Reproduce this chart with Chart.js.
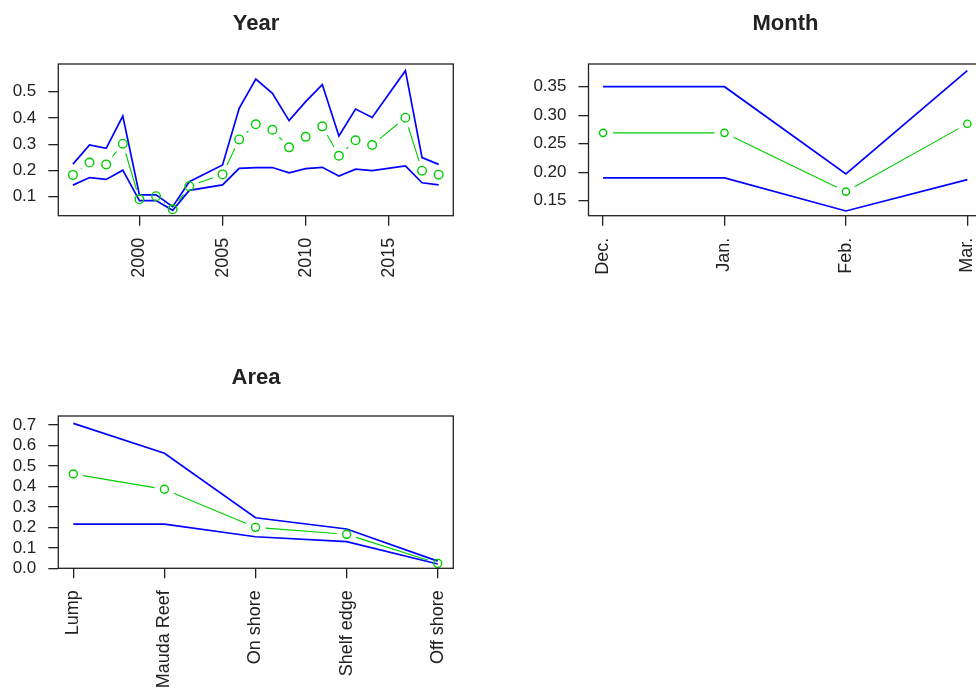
<!DOCTYPE html>
<html>
<head>
<meta charset="utf-8">
<script src="https://cdn.jsdelivr.net/npm/chart.js@4"></script>
<style>
html, body { margin:0; padding:0; background:#fff; overflow:hidden; width:976px; height:693px; }
canvas { position:absolute; }
</style>
</head>
<body>
<canvas id="year" width="512" height="352" style="left:0;top:0"></canvas>
<canvas id="month" width="571" height="352" style="left:500px;top:0"></canvas>
<canvas id="area" width="512" height="341" style="left:0;top:352px"></canvas>
<script>
// --- data ---
const years = [1996,1997,1998,1999,2000,2001,2002,2003,2005,2006,2007,2008,2009,2010,2011,2012,2013,2014,2016,2017,2018]
const yearMid   = [0.183,0.230,0.223,0.302,0.090,0.102,0.052,0.140,0.185,0.318,0.376,0.355,0.288,0.328,0.368,0.256,0.315,0.297,0.401,0.199,0.184]
const yearUpper = [0.224,0.297,0.284,0.407,0.107,0.107,0.062,0.157,0.221,0.437,0.548,0.494,0.390,0.462,0.527,0.331,0.434,0.402,0.580,0.249,0.223]
const yearLower = [0.144,0.173,0.166,0.201,0.085,0.085,0.048,0.124,0.145,0.208,0.211,0.211,0.191,0.207,0.212,0.179,0.205,0.199,0.217,0.153,0.145]
const yearXTicks = [2000,2005,2010,2015]
const yearYTicks = [0.1,0.2,0.3,0.4,0.5]

const months = ['Dec.','Jan.','Feb.','Mar.']
const monthMid   = [0.269,0.269,0.166,0.285]
const monthUpper = [0.350,0.350,0.197,0.378]
const monthLower = [0.190,0.190,0.132,0.187]
const monthYTicks = [0.15,0.20,0.25,0.30,0.35]

const areas = ['Lump','Mauda Reef','On shore','Shelf edge','Off shore']
const areaMid   = [0.461,0.386,0.200,0.166,0.024]
const areaUpper = [0.708,0.562,0.247,0.192,0.035]
const areaLower = [0.216,0.216,0.154,0.130,0.021]
const areaYTicks = [0.0,0.1,0.2,0.3,0.4,0.5,0.6,0.7]

const BLUE = '#0000ff'
const GREEN = '#00cd00'
const INK = '#222'
const FONT = "Arial, 'Liberation Sans', sans-serif"
const GAP = 10

// R type="b": segments stop short of each point
const gapLines = {
    id: 'gapLines',
    afterDatasetsDraw(chart) {
        const {ctx, chartArea} = chart
        chart.data.datasets.forEach((ds, i) => {
            if (!ds.gapLine) return
            const pts = chart.getDatasetMeta(i).data
            ctx.save()
            ctx.beginPath()
            ctx.rect(chartArea.left, chartArea.top, chartArea.width, chartArea.height)
            ctx.clip()
            ctx.strokeStyle = ds.borderColor
            ctx.lineWidth = ds.borderWidth
            ctx.beginPath()
            for (let k = 1; k < pts.length; k++) {
                const a = pts[k-1], b = pts[k]
                const dx = b.x - a.x, dy = b.y - a.y, len = Math.hypot(dx, dy)
                if (len <= 2*GAP) continue
                const ux = dx/len, uy = dy/len
                ctx.moveTo(a.x + ux*GAP, a.y + uy*GAP)
                ctx.lineTo(b.x - ux*GAP, b.y - uy*GAP)
            }
            ctx.stroke()
            ctx.restore()
        })
    }
}

// plot box
const frame = {
    id: 'frame',
    afterDraw(chart) {
        const {ctx, chartArea} = chart
        ctx.save()
        ctx.strokeStyle = INK
        ctx.lineWidth = 1.3
        ctx.strokeRect(chartArea.left, chartArea.top, chartArea.width, chartArea.height)
        ctx.restore()
    }
}

function makePanel(id, opt) {
    const pts = (ys) => ys.map((y, i) => ({x: opt.xs[i], y}))
    new Chart(document.getElementById(id), {
        type: 'line',
        data: {
            datasets: [
                {data: pts(opt.mid), borderColor: GREEN, borderWidth: 1.1, showLine: false, gapLine: true,
                 pointStyle: 'circle', pointRadius: opt.radius, pointBorderWidth: 1.4,
                 pointBorderColor: GREEN, pointBackgroundColor: 'rgba(0,0,0,0)'},
                {data: pts(opt.upper), borderColor: BLUE, borderWidth: 1.7, pointRadius: 0, tension: 0},
                {data: pts(opt.lower), borderColor: BLUE, borderWidth: 1.7, pointRadius: 0, tension: 0}
            ]
        },
        options: {
            responsive: false,
            animation: false,
            events: [],
            layout: {padding: 0},
            plugins: {
                legend: {display: false},
                tooltip: {enabled: false},
                title: {display: true, text: opt.title, color: INK,
                        font: {family: FONT, size: 22, weight: 'bold', lineHeight: 1.2},
                        padding: {top: opt.titleTop, bottom: 64 - opt.titleTop - 26.4}}
            },
            scales: {
                x: {
                    type: 'linear', position: 'bottom',
                    min: opt.xMin, max: opt.xMax,
                    afterBuildTicks: s => { s.ticks = opt.xTicks.map(v => ({value: v})) },
                    afterFit: s => { s.height = opt.xHeight },
                    grid: {display: true, drawOnChartArea: false, drawTicks: true, tickLength: 10, color: INK, lineWidth: 1.3},
                    border: {display: false},
                    ticks: {autoSkip: false, minRotation: 90, maxRotation: 90, padding: 12, color: INK,
                            font: {family: FONT, size: 18}, callback: opt.xLabel}
                },
                y: {
                    type: 'linear', position: 'left',
                    min: opt.yMin, max: opt.yMax,
                    afterBuildTicks: s => { s.ticks = opt.yTicks.map(v => ({value: v})) },
                    afterFit: s => { s.width = opt.yWidth },
                    grid: {display: true, drawOnChartArea: false, drawTicks: true, tickLength: 10, color: INK, lineWidth: 1.3},
                    border: {display: false},
                    ticks: {autoSkip: false, padding: 12, color: INK, font: {family: FONT, size: 17},
                            callback: v => v.toFixed(opt.yDigits)}
                },
                // empty right-hand margin so the title sits centred over the plot box
                margin: {
                    type: 'linear', position: 'right',
                    afterFit: s => { s.width = opt.rightWidth },
                    grid: {display: false}, border: {display: false}, ticks: {display: false}
                }
            }
        },
        plugins: [gapLines, frame]
    })
}

makePanel('year', {
    title: 'Year', xs: years, mid: yearMid, upper: yearUpper, lower: yearLower,
    xMin: 1995.12, xMax: 2018.88, xTicks: yearXTicks, xLabel: v => String(v),
    yMin: 0.0276, yMax: 0.6055, yTicks: yearYTicks, yDigits: 1, radius: 4.3,
    yWidth: 58.3, rightWidth: 58.7, xHeight: 136.3, titleTop: 10.8
})

makePanel('month', {
    title: 'Month', xs: months.map((m, i) => i + 1), mid: monthMid, upper: monthUpper, lower: monthLower,
    xMin: 0.88, xMax: 4.12, xTicks: months.map((m, i) => i + 1), xLabel: (v, i) => months[i],
    yMin: 0.1237, yMax: 0.3898, yTicks: monthYTicks, yDigits: 2, radius: 3.6,
    yWidth: 88.5, rightWidth: 89.1, xHeight: 136.3, titleTop: 10.8
})

makePanel('area', {
    title: 'Area', xs: areas.map((a, i) => i + 1), mid: areaMid, upper: areaUpper, lower: areaLower,
    xMin: 0.835, xMax: 5.171, xTicks: areas.map((a, i) => i + 1), xLabel: (v, i) => areas[i],
    yMin: 0, yMax: 0.744, yTicks: areaYTicks, yDigits: 1, radius: 4,
    yWidth: 58.3, rightWidth: 58.7, xHeight: 124.7, titleTop: 12.8
})
</script>
</body>
</html>
